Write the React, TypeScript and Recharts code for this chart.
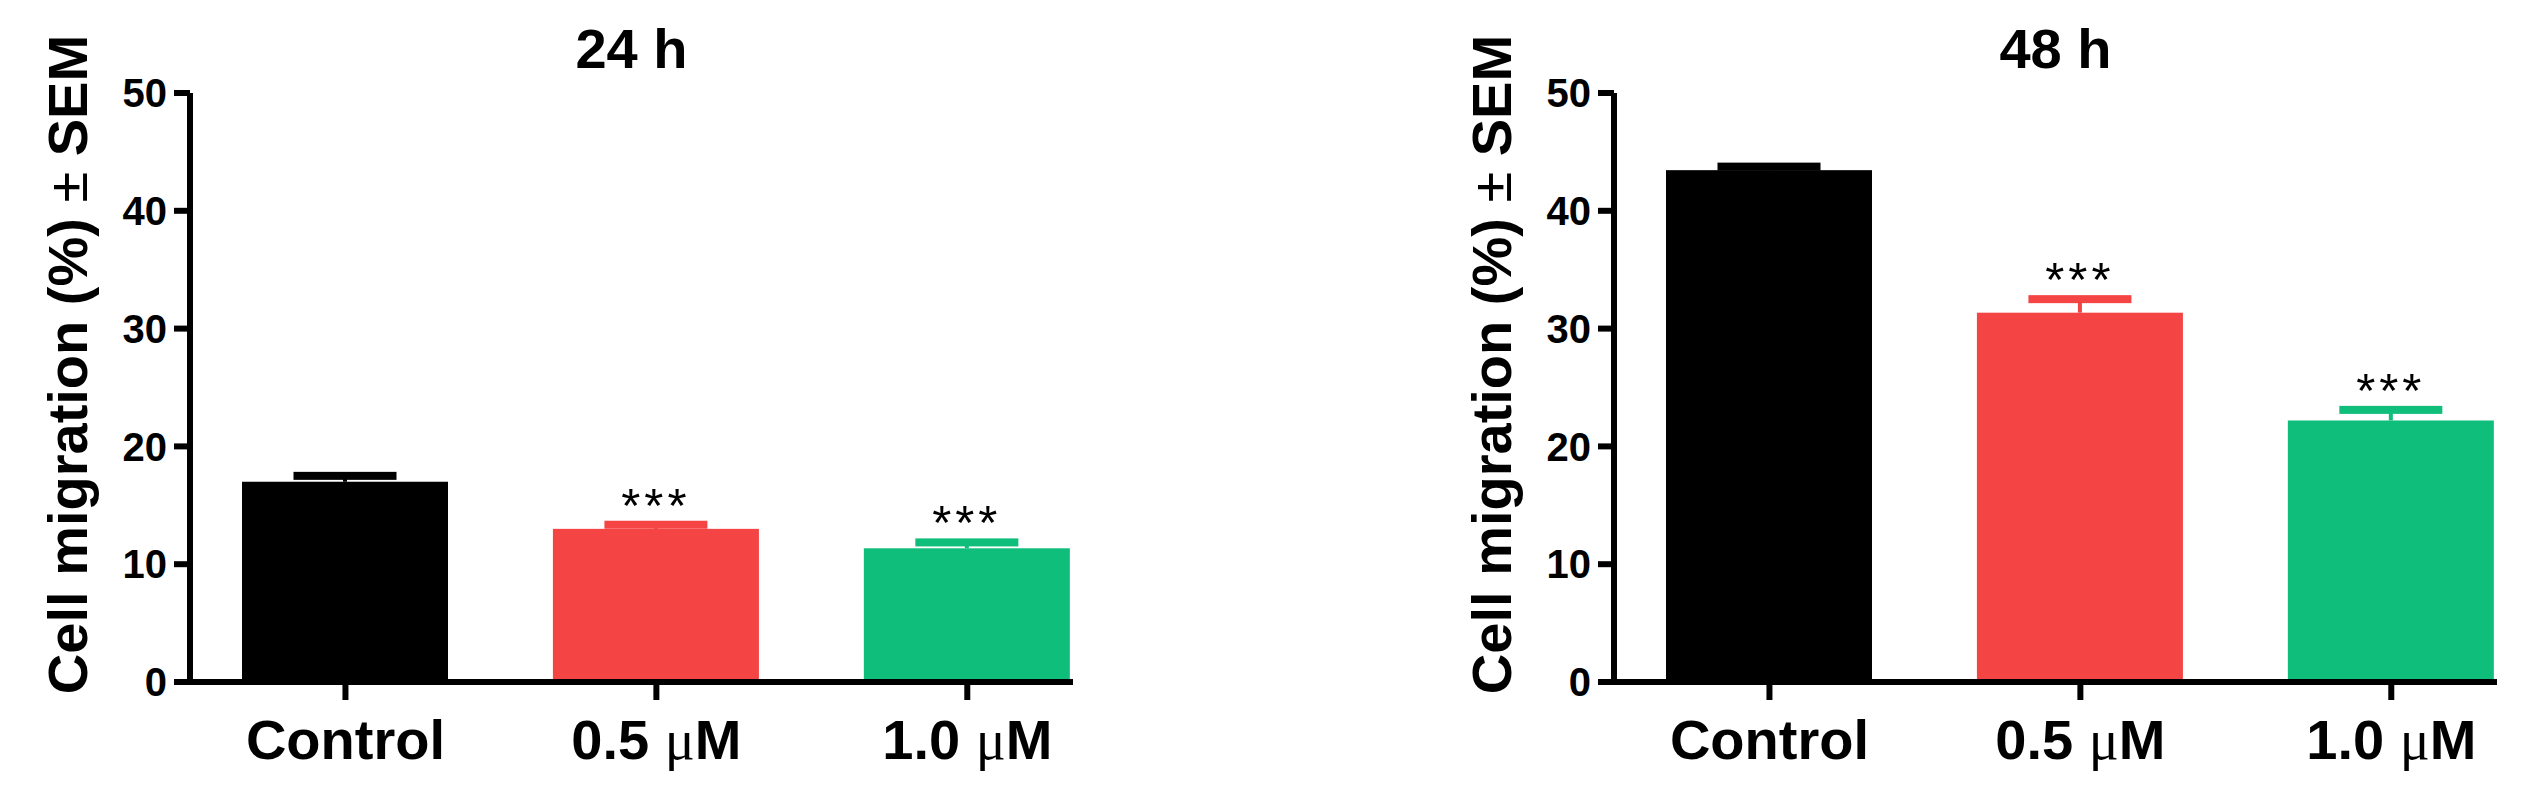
import { BarChart, Bar, XAxis, YAxis, Label } from "recharts"

const categories = ["Control", "0.5 μM", "1.0 μM"]
const barColors = ["#000000", "#f44444", "#0fbe7b"]

const mean24 = [17.0, 13.0, 11.35]
const sem24 = [0.5, 0.35, 0.5]
const sig24 = ["", "***", "***"]

const mean48 = [43.45, 31.35, 22.2]
const sem48 = [0.3, 1.15, 0.9]
const sig48 = ["", "***", "***"]

const yTicks = [0, 10, 20, 30, 40, 50]
const xTicks = [0, 1, 2]

const FONT = '"Liberation Sans", Arial, sans-serif'

const data24 = categories.map((name, i) => ({ idx: i, name, mean: mean24[i], sem: sem24[i], sig: sig24[i] }))
const data48 = categories.map((name, i) => ({ idx: i, name, mean: mean48[i], sem: sem48[i], sig: sig48[i] }))

// bar + upper SEM cap + significance stars, positioned from the bar's own scale
function BarWithError(props: any) {
    const { x, y, width, height, payload } = props
    const color = barColors[payload.idx]
    const ppu = height / payload.mean
    const cx = x + width / 2
    const capY = y - payload.sem * ppu
    return (
        <g>
            <rect x={x} y={y} width={width} height={height} fill={color} />
            <line x1={cx} x2={cx} y1={y} y2={capY} stroke={color} strokeWidth={4} />
            <rect x={cx - width / 4} y={capY - 4} width={width / 2} height={8} fill={color} />
            {payload.sig ? (
                <text x={cx} y={capY - 3} textAnchor="middle" fontSize={49} fontFamily={FONT} letterSpacing={4} fill="#000">
                    {payload.sig}
                </text>
            ) : null}
        </g>
    )
}

function XTick({ x, y, payload }: any) {
    const label = categories[payload.value] ?? ""
    const parts = label.split("μ")
    return (
        <text x={x} y={y} dy="0.71em" textAnchor="middle" fontSize={56} fontWeight="bold" fontFamily={FONT} fill="#000">
            {parts.length > 1 ? (
                <>
                    {parts[0]}
                    <tspan fontFamily='"Liberation Serif", serif' fontWeight="normal">μ</tspan>
                    {parts[1]}
                </>
            ) : label}
        </text>
    )
}

function YLabel({ viewBox }: any) {
    const cx = viewBox.x + 87
    const cy = viewBox.y + viewBox.height / 2 - 23
    return (
        <text transform={`translate(${cx},${cy}) rotate(-90)`} textAnchor="middle" fontSize={56} fontWeight="bold" fontFamily={FONT} fill="#000">
            Cell migration (%) <tspan fontWeight="normal">±</tspan> SEM
        </text>
    )
}

function Panel({ title, data }: { title: string; data: any[] }) {
    return (
        <div style={{ position: "relative", width: 1099, height: 786 }}>
            <BarChart width={1099} height={786} data={data} margin={{ top: 93, right: 26, bottom: 0, left: 0 }}>
                <XAxis
                    type="number"
                    dataKey="idx"
                    domain={[-0.5, 2.34]}
                    ticks={xTicks}
                    interval={0}
                    allowDataOverflow
                    height={104}
                    axisLine={{ stroke: "#000", strokeWidth: 6 }}
                    tickLine={{ stroke: "#000", strokeWidth: 6 }}
                    tickSize={18}
                    tickMargin={19}
                    tick={<XTick />}
                />
                <YAxis
                    type="number"
                    domain={[0, 50]}
                    ticks={yTicks}
                    interval={0}
                    width={190}
                    axisLine={{ stroke: "#000", strokeWidth: 6 }}
                    tickLine={{ stroke: "#000", strokeWidth: 6 }}
                    tickSize={16}
                    tickMargin={7}
                    tick={{ fill: "#000", fontSize: 40, fontWeight: "bold", fontFamily: FONT }}
                >
                    <Label content={<YLabel />} />
                </YAxis>
                <Bar dataKey="mean" barSize={206} shape={<BarWithError />} isAnimationActive={false} />
            </BarChart>
            <div
                style={{
                    position: "absolute",
                    left: 190,
                    width: 883,
                    top: 21,
                    textAlign: "center",
                    font: `bold 56px ${FONT}`,
                    lineHeight: "56px",
                    color: "#000"
                }}
            >
                {title}
            </div>
        </div>
    )
}

export default function App() {
    return (
        <div style={{ position: "relative", width: 2523, height: 786, background: "#fff" }}>
            <style>{"body{margin:0;}"}</style>
            <div style={{ position: "absolute", left: 0, top: 0 }}>
                <Panel title="24 h" data={data24} />
            </div>
            <div style={{ position: "absolute", left: 1424, top: 0 }}>
                <Panel title="48 h" data={data48} />
            </div>
        </div>
    )
}
